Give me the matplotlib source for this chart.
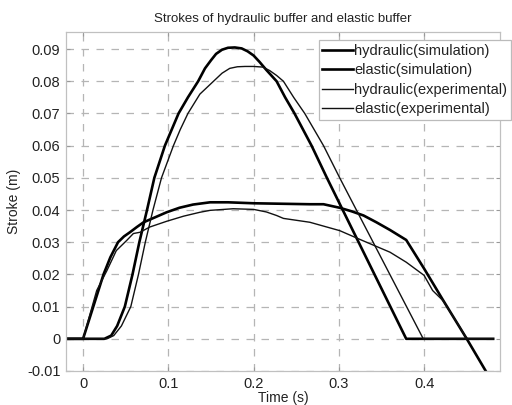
import matplotlib
matplotlib.use('Agg')
import matplotlib.pyplot as plt
import numpy as np

plt.rcParams['font.family'] = ['Liberation Sans', 'DejaVu Sans']
plt.rcParams['axes.unicode_minus'] = False

# hydraulic buffer, simulation (thick, flat top ~0.042)
t_hyd_sim = [-0.02, 0.0, 0.006, 0.012, 0.018, 0.024, 0.032, 0.041, 0.048, 0.055, 0.063, 0.071,
             0.085, 0.098, 0.113, 0.129, 0.149, 0.17, 0.2, 0.266, 0.282, 0.301, 0.315, 0.329,
             0.344, 0.36, 0.379, 0.40, 0.422, 0.45, 0.4725]
s_hyd_sim = [0, 0, 0.005, 0.01, 0.015, 0.02, 0.0253, 0.030, 0.0318, 0.0331, 0.0347, 0.0362,
             0.0378, 0.0393, 0.0407, 0.0417, 0.0424, 0.0424, 0.0421, 0.0418, 0.0418, 0.0407, 0.0396, 0.0383,
             0.0362, 0.0338, 0.0307, 0.0218, 0.0121, 0, -0.0101]

# elastic buffer, simulation (thick, peak ~0.09)
t_ela_sim = [-0.02, 0.025, 0.033, 0.04, 0.049, 0.058, 0.066, 0.075, 0.0836, 0.096, 0.104,
             0.112, 0.123, 0.135, 0.143, 0.15, 0.156, 0.163, 0.17, 0.178, 0.186, 0.193, 0.2,
             0.207, 0.215, 0.227, 0.237, 0.248, 0.268, 0.286, 0.379, 0.481]
s_ela_sim = [0, 0, 0.001, 0.004, 0.01, 0.02, 0.03, 0.04, 0.05, 0.06, 0.065,
             0.07, 0.075, 0.08, 0.084, 0.0865, 0.0885, 0.0898, 0.0904, 0.0905, 0.0902, 0.0893, 0.088,
             0.086, 0.0835, 0.08, 0.075, 0.07, 0.06, 0.05, 0, 0]

# hydraulic buffer, experimental (thin, peak ~0.085)
t_hyd_exp = [-0.02, 0.028, 0.036, 0.045, 0.056, 0.065, 0.073, 0.082, 0.092, 0.106, 0.114,
             0.123, 0.137, 0.153, 0.163, 0.172, 0.181, 0.19, 0.2, 0.211, 0.219, 0.227, 0.235,
             0.247, 0.26, 0.282, 0.301, 0.399, 0.481]
s_hyd_exp = [0, 0, 0.001, 0.004, 0.01, 0.02, 0.03, 0.04, 0.05, 0.06, 0.065,
             0.07, 0.076, 0.08, 0.0825, 0.084, 0.0845, 0.0846, 0.0846, 0.0844, 0.0833, 0.0818, 0.08,
             0.075, 0.07, 0.06, 0.05, 0, 0]

# elastic buffer, experimental (thin, flat top ~0.040)
t_ela_exp = [-0.02, 0.0, 0.008, 0.016, 0.028, 0.039, 0.051, 0.059, 0.067, 0.078, 0.098,
             0.118, 0.137, 0.149, 0.176, 0.2, 0.215, 0.227, 0.235, 0.266, 0.301, 0.328,
             0.36, 0.379, 0.40, 0.41, 0.422, 0.442, 0.45, 0.48]
s_ela_exp = [0, 0, 0.0075, 0.015, 0.0212, 0.0274, 0.0305, 0.0327, 0.0331, 0.0347, 0.0365,
             0.0381, 0.0393, 0.0399, 0.0404, 0.0402, 0.0394, 0.0383, 0.0374, 0.0362, 0.0336, 0.0305,
             0.0269, 0.0238, 0.0197, 0.015, 0.0119, 0.0036, 0, 0]

x_ticks = [0, 0.1, 0.2, 0.3, 0.4]
x_labels = ['0', '0.1', '0.2', '0.3', '0.4']
y_ticks = [-0.01, 0, 0.01, 0.02, 0.03, 0.04, 0.05, 0.06, 0.07, 0.08, 0.09]
y_labels = ['-0.01', '0', '0.01', '0.02', '0.03', '0.04', '0.05', '0.06', '0.07', '0.08', '0.09']

fig = plt.figure(figsize=(5.12, 4.05), dpi=100)
ax = fig.add_axes([66/512, 1-371/405, (500-66)/512, (371-32)/405])

ax.plot(t_hyd_sim, s_hyd_sim, color='black', lw=1.9, label='hydraulic(simulation)')
ax.plot(t_ela_sim, s_ela_sim, color='black', lw=1.9, label='elastic(simulation)')
ax.plot(t_hyd_exp, s_hyd_exp, color='#111111', lw=1.0, label='hydraulic(experimental)')
ax.plot(t_ela_exp, s_ela_exp, color='#111111', lw=1.0, label='elastic(experimental)')

ax.set_xlim(-0.02, 0.489)
ax.set_ylim(-0.01, 0.0953)
ax.set_xticks(x_ticks)
ax.set_xticklabels(x_labels)
ax.set_yticks(y_ticks)
ax.set_yticklabels(y_labels)
ax.tick_params(direction='in', length=3, color='#999999', labelsize=10.5,
               labelcolor='#222222', top=True, right=True, pad=4)
ax.grid(True, color='#b5b5b5', linestyle=(0, (6, 6)), linewidth=0.9)
for sp in ax.spines.values():
    sp.set_color('#c0c0c0')
    sp.set_linewidth(0.9)

ax.set_xlabel('Time (s)', fontsize=10, color='#222222', labelpad=0)
ax.set_ylabel('Stroke (m)', fontsize=10, color='#222222', labelpad=4)
ax.set_title('Strokes of hydraulic buffer and elastic buffer', fontsize=9.5, color='#222222', pad=7)

leg = ax.legend(loc='upper right', bbox_to_anchor=(511/512, 1-40/405), bbox_transform=fig.transFigure,
                borderaxespad=0, fontsize=10.5, handlelength=2.1, handletextpad=0.1,
                labelspacing=0.38, borderpad=0.25, fancybox=False, framealpha=1,
                edgecolor='#bbbbbb')
leg.get_frame().set_linewidth(0.9)
for txt in leg.get_texts():
    txt.set_color('#222222')

fig.savefig('out.png', dpi=100)
